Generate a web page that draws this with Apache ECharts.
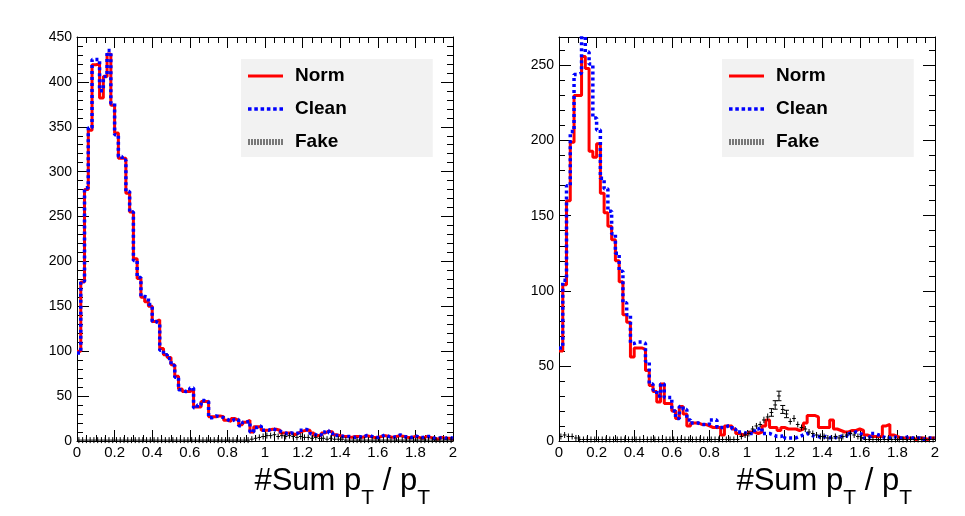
<!DOCTYPE html>
<html><head><meta charset="utf-8">
<script src="https://cdn.jsdelivr.net/npm/echarts@6/dist/echarts.min.js"></script>
<style>html,body{margin:0;padding:0;background:#fff}#c{width:965px;height:516px}</style>
</head><body><div id="c"></div>
<script>
// ---- data ----
const xMin = 0, xMax = 2, binWidth = 0.02;
const xTickLabels = ['0','0.2','0.4','0.6','0.8','1','1.2','1.4','1.6','1.8','2'];
const seriesNames = ['Norm', 'Clean', 'Fake'];

const leftNorm = [
  100,177,280,346,419,420,382,406,431,374,
  343,315,315,276,255,203,181,160,155,150,
  133,135,103,96,93,85,72,58,55,55,
  57,38,38,44,44,27,27,28,27,23,
  22,25,23,18,21,23,10,16,16,12,
  12,13,13,12,9,9,9,7,9,11,
  12,12,9,6,6,9,11,10,7,6,
  5,5,4,5,5,4,6,5,4,4,
  5,6,5,4,5,6,5,4,4,5,
  4,3,5,4,3,2,4,3,3,2];
const leftClean = [
  98,178,282,349,425,425,390,406,435,376,
  341,317,313,278,255,201,182,161,160,152,
  133,131,101,96,92,84,71,57,55,56,
  59,37,40,45,44,26,28,27,26,24,
  22,24,24,17,21,22,10,15,17,12,
  12,14,12,11,10,8,9,8,9,12,
  13,11,8,6,7,10,12,9,6,6,
  5,5,5,4,5,4,6,6,4,4,
  5,7,5,4,5,7,5,4,4,6,
  4,4,5,5,3,3,4,3,4,3];
const leftFake = [
  1,1,1,1,1,1,1,1,1,1,
  1,1,1,1,1,1,1,1,1,1,
  1,1,1,1,1,1,1,1,1,1,
  1,1,1,1,1,1,1,1,1,1,
  1,1,1,1,1,1,2,3,4,5,
  6,6,7,5,6,5,6,5,4,5,
  4,4,3,4,3,3,2,3,2,2,
  2,1,1,1,1,1,1,1,1,1,
  1,1,1,1,1,1,1,1,1,1,
  1,1,1,1,1,1,1,1,1,1];

const rightNorm = [
  60,104,160,199,230,230,256,248,193,189,
  198,165,152,143,134,120,106,84,79,56,
  62,62,61,47,37,33,26,38,25,25,
  20,15,23,18,10,12,12,11,11,10,
  9,9,9,4,10,10,8,5,4,5,
  6,6,5,6,10,14,9,9,7,9,
  8,8,8,7,8,12,17,17,16,9,
  9,9,14,8,7,6,6,7,7,8,
  7,4,3,3,3,3,10,11,4,3,
  2,2,2,2,1,2,2,1,2,2];
const rightClean = [
  62,107,170,206,244,245,285,259,251,215,
  207,175,168,153,138,125,113,92,84,65,
  66,66,65,53,38,34,30,38,29,29,
  20,15,23,21,14,12,12,11,11,11,
  14,14,9,9,10,10,8,6,6,5,
  5,5,8,9,5,5,4,3,3,4,
  2,2,2,3,4,5,4,3,3,2,
  3,2,3,2,3,4,3,5,6,5,
  4,2,3,5,4,3,2,2,3,2,
  2,2,3,2,2,2,1,2,2,2];
const rightFake = [
  3,4,3,3,2,1,1,1,1,1,
  1,1,1,1,1,1,1,1,1,1,
  1,1,1,1,1,1,1,1,1,1,
  1,1,1,1,1,1,1,1,1,1,
  1,1,1,1,1,1,1,1,3,4,
  5,8,10,11,14,16,19,24,30,21,
  18,13,15,11,9,8,6,5,4,3,
  3,2,2,3,2,3,4,5,4,3,
  2,1,1,1,1,1,1,1,1,1,
  1,1,1,1,1,1,1,1,1,1];

// ---- helpers ----
function binEdge(i){ return Math.round((xMin + i*binWidth)*1000)/1000; }
function stepData(vals){
  const d = vals.map((v,i)=>[binEdge(i), v]);
  d.push([xMax, vals[vals.length-1]]);
  return d;
}
function binData(vals){ return vals.map((v,i)=>[binEdge(i), v]); }

const FONT = 'Liberation Sans';
const RED = '#ff0000', BLUE = '#0000ff', BLACK = '#000000';

function xAxisPair(g){
  const common = {
    type:'value', gridIndex:g, min:xMin, max:xMax, interval:0.2,
    axisLine:{show:true, onZero:false, lineStyle:{color:BLACK, width:1}},
    axisTick:{show:true, inside:true, length:11, lineStyle:{color:BLACK, width:1}},
    minorTick:{show:true, splitNumber:4, length:6, lineStyle:{color:BLACK, width:1}},
    splitLine:{show:false}, minorSplitLine:{show:false}
  };
  return [
    Object.assign({}, common, {
      position:'bottom',
      axisLabel:{show:true, color:BLACK, fontSize:15, fontFamily:FONT, margin:4,
        formatter:(v)=>{ const k = Math.round(v/0.2); return xTickLabels[k] !== undefined ? xTickLabels[k] : ''; }},
      name:'{m|#Sum p}{s|T}{m| / p}{s|T}',
      nameLocation:'end', nameGap:-23, nameMoveOverlap:false,
      nameTextStyle:{
        align:'right', verticalAlign:'top', padding:[35,0,0,0],
        rich:{
          m:{fontSize:31, fontFamily:FONT, color:BLACK, lineHeight:33, padding:[0,0,12,0], verticalAlign:'bottom'},
          s:{fontSize:21, fontFamily:FONT, color:BLACK, lineHeight:21, verticalAlign:'bottom'}
        }
      }
    }),
    Object.assign({}, common, {position:'top', axisLabel:{show:false}})
  ];
}
function yAxisPair(g, max){
  const common = {
    type:'value', gridIndex:g, min:0, max:max, interval:50,
    axisLine:{show:true, onZero:false, lineStyle:{color:BLACK, width:1}},
    axisTick:{show:true, inside:true, length:12, lineStyle:{color:BLACK, width:1}},
    minorTick:{show:true, splitNumber:5, length:6, lineStyle:{color:BLACK, width:1}},
    splitLine:{show:false}, minorSplitLine:{show:false}
  };
  return [
    Object.assign({}, common, {position:'left',
      axisLabel:{show:true, color:BLACK, fontSize:14, fontFamily:FONT, margin:5,
        formatter:(v)=> (v % 50 === 0 ? String(v) : '')}}),
    Object.assign({}, common, {position:'right', axisLabel:{show:false}})
  ];
}

function fakeRender(params, api){
  const x0 = api.value(0), v = api.value(1);
  const a = api.coord([x0, v]);
  const b = api.coord([x0 + binWidth, v]);
  const cx = (a[0] + b[0]) / 2;
  const up = api.coord([x0, v + 0.58*Math.sqrt(v)]);
  let half = Math.max(3, Math.abs(a[1] - up[1]));
  const st = {stroke:BLACK, lineWidth:1, fill:null};
  const ch = [
    {type:'line', shape:{x1:a[0], y1:a[1], x2:b[0], y2:b[1]}, style:st},
    {type:'line', shape:{x1:cx, y1:a[1]-half, x2:cx, y2:a[1]+half}, style:st}
  ];
  if (half > 3.5) {
    ch.push({type:'line', shape:{x1:cx-2.5, y1:a[1]-half, x2:cx+2.5, y2:a[1]-half}, style:st});
    ch.push({type:'line', shape:{x1:cx-2.5, y1:a[1]+half, x2:cx+2.5, y2:a[1]+half}, style:st});
  }
  return {type:'group', children:ch};
}

function panelSeries(g, norm, clean, fake){
  return [
    {name:'Norm', type:'line', xAxisIndex:2*g, yAxisIndex:2*g, step:'end', symbol:'none',
     data:stepData(norm), lineStyle:{color:RED, width:3}, itemStyle:{color:RED}, z:2, silent:true, animation:false},
    {name:'Clean', type:'line', xAxisIndex:2*g, yAxisIndex:2*g, step:'end', symbol:'none',
     data:stepData(clean), lineStyle:{color:BLUE, width:3.5, type:[3,3]}, itemStyle:{color:BLUE}, z:3, silent:true, animation:false},
    {name:'Fake', type:'custom', xAxisIndex:2*g, yAxisIndex:2*g, renderItem:fakeRender,
     data:binData(fake), itemStyle:{color:BLACK}, z:4, silent:true, animation:false}
  ];
}

function barsPath(n, step, w, h){ let p=''; for(let i=0;i<n;i++){ p += 'M'+(i*step)+',0h'+w+'v'+h+'h-'+w+'z'; } return 'path://'+p; }
const iconNorm = 'path://M0,0h35v3h-35z';
const iconClean = barsPath(6, 6.2, 3.5, 3.5);
const iconFake = barsPath(12, 3, 1, 6);

function legendAt(left){
  return {
    orient:'vertical', left:left, top:59, backgroundColor:'#f2f2f2', borderWidth:0,
    padding:[7,86,5,7], itemWidth:35, itemHeight:6, itemGap:13, selectedMode:false,
    textStyle:{fontSize:19, fontWeight:'bold', fontFamily:FONT, color:BLACK, lineHeight:20, padding:[0,0,0,7]},
    data:[{name:'Norm', icon:iconNorm}, {name:'Clean', icon:iconClean}, {name:'Fake', icon:iconFake}]
  };
}

const chart = echarts.init(document.getElementById('c'), null, {renderer:'canvas'});
chart.setOption({
  backgroundColor:'#ffffff',
  animation:false,
  grid:[
    {left:77, right:965-453, top:37, bottom:516-441, containLabel:false, outerBoundsMode:'none'},
    {left:559, right:965-935, top:37, bottom:516-441, containLabel:false, outerBoundsMode:'none'}
  ],
  xAxis:[...xAxisPair(0), ...xAxisPair(1)],
  yAxis:[...yAxisPair(0, 450), ...yAxisPair(1, 269)],
  legend:[legendAt(241), legendAt(722)],
  series:[...panelSeries(0, leftNorm, leftClean, leftFake), ...panelSeries(1, rightNorm, rightClean, rightFake)]
});
</script>
</body></html>
